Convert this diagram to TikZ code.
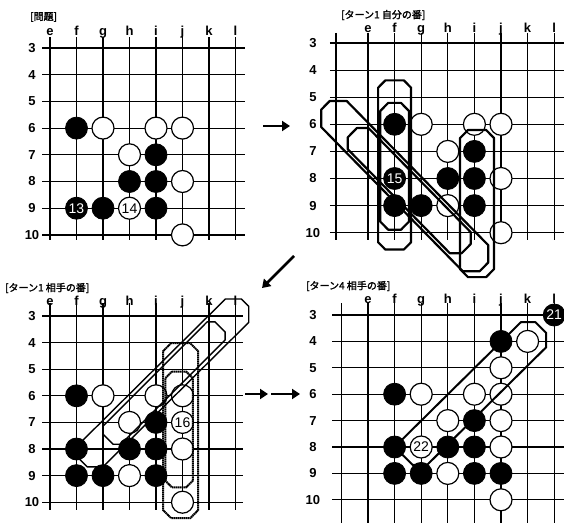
\documentclass[tikz,border=0pt]{standalone}
\usepackage{fontspec}
\setmainfont{Liberation Sans}
\newfontfamily\jpfont{Noto Sans CJK JP}[FakeBold=2]
\usetikzlibrary{arrows.meta}

\tikzset{
  gridline/.style={line width=1.2pt},
  bstone/.style={circle,fill=black,draw=black,line width=0.8pt,minimum size=22pt,inner sep=0pt,text=white,font=\fontsize{14}{14}\selectfont},
  wstone/.style={circle,fill=white,draw=black,line width=1.2pt,minimum size=22pt,inner sep=0pt,font=\fontsize{14}{14}\selectfont},
  rowlab/.style={font=\bfseries\fontsize{13}{13}\selectfont},
  collab/.style={font=\bfseries\fontsize{13}{13}\selectfont,anchor=base},
  title/.style={font=\jpfont\fontsize{10}{10}\selectfont,anchor=west,inner sep=0pt},
  band/.style={line width=2.2pt,line join=round},
  band4/.style={line width=2pt,line join=round},
  thinband/.style={line width=1.4pt,line join=round},
  dotband/.style={line width=2pt,dash pattern=on 1.5pt off 0.5pt},
  turn/.style={line width=2.8pt,-{Triangle[length=8pt,width=10pt]}},
}

% capsules: style, x, y top, y bottom, half width, chamfer
\newcommand\capV[6]{\draw[#1] (#2-#5+#6,#3-#5) -- (#2+#5-#6,#3-#5) -- (#2+#5,#3-#5+#6) -- (#2+#5,#4+#5-#6) -- (#2+#5-#6,#4+#5) -- (#2-#5+#6,#4+#5) -- (#2-#5,#4+#5-#6) -- (#2-#5,#3-#5+#6) -- cycle;}
% down-right: style, x1, y1, x2, y2, half width, chamfer
\newcommand\capD[7]{\draw[#1] (#2-#6,#3+#6-#7) -- (#2-#6,#3-#6+#7) -- (#2-#6+#7,#3-#6) -- (#2+#6-#7,#3-#6) -- (#4+#6,#5-#6+#7) -- (#4+#6,#5+#6-#7) -- (#4+#6-#7,#5+#6) -- (#4-#6+#7,#5+#6) -- cycle;}
% up-right: style, x1, y1 (lower left), x2, y2, half width, chamfer
\newcommand\capU[7]{\draw[#1] (#4-#6+#7,#5-#6) -- (#4+#6-#7,#5-#6) -- (#4+#6,#5-#6+#7) -- (#4+#6,#5+#6-#7) -- (#2+#6-#7,#3+#6) -- (#2-#6+#7,#3+#6) -- (#2-#6,#3+#6-#7) -- (#2-#6,#3-#6+#7) -- cycle;}

\begin{document}
\begin{tikzpicture}[x=1pt,y=-1pt]
\useasboundingbox (0,0) rectangle (564,522);

\node[title] (t-q) at (30,17) {[問題]};
\node[title] (t-1) at (341,15) {[ターン1 自分の番]};
\node[title] (t-2) at (5,288) {[ターン1 相手の番]};
\node[title] (t-3) at (306,286) {[ターン4 相手の番]};

% problem
\begin{scope}[shift={(-82.5,-32.1)},x=26.5pt,y=-26.7pt]
\foreach \cx in {5,...,12} \draw[gridline] (\cx,2.59) -- (\cx,10.19);
\foreach \ry in {3,...,10} {
  \draw[gridline] (4.7,\ry) -- (12.36,\ry);
  \node[rowlab] (a-r\ry) at (4.32,\ry) {\ry};
}
\foreach \cx/\lab in {5/e,6/f,7/g,8/h,9/i,10/j,11/k,12/l} \node[collab] (a-c\lab) at (\cx,2.52) {\lab};
\foreach \cx/\ry/\nm in {6/6/f6,9/7/i7,8/8/h8,9/8/i8,7/9/g9,9/9/i9} \node[bstone] (a-\nm) at (\cx,\ry) {};
\foreach \cx/\ry/\nm in {7/6/g6,9/6/i6,10/6/j6,8/7/h7,10/8/j8,10/10/j10} \node[wstone] (a-\nm) at (\cx,\ry) {};
\node[bstone] (a-f9) at (6,9) {13};
\node[wstone] (a-h9) at (8,9) {14};
\end{scope}

% turn 1, own move
\begin{scope}[shift={(235,-38.3)},x=26.6pt,y=-27.1pt]
\foreach \cx in {3.8,5,6,...,12} \draw[gridline] (\cx,2.63) -- (\cx,10.27);
\foreach \ry in {3,...,10} {
  \draw[gridline] (3.57,\ry) -- (12.5,\ry);
  \node[rowlab] (b-r\ry) at (2.93,\ry) {\ry};
}
\foreach \cx/\lab in {5/e,6/f,7/g,8/h,9/i,10/j,11/k,12/l} \node[collab] (b-c\lab) at (\cx,2.6) {\lab};
\foreach \cx/\ry/\nm in {6/6/f6,9/7/i7,8/8/h8,9/8/i8,6/9/f9,7/9/g9,9/9/i9} \node[bstone] (b-\nm) at (\cx,\ry) {};
\foreach \cx/\ry/\nm in {7/6/g6,9/6/i6,10/6/j6,8/7/h7,10/8/j8,8/9/h9,10/10/j10} \node[wstone] (b-\nm) at (\cx,\ry) {};
\node[bstone] (b-f8) at (6,8) {15};
\capV{band}{6}{5}{10}{0.62}{0.27}
\capV{band}{6}{5.75}{9.35}{0.54}{0.3}
\capD{band}{3.88}{5.78}{8.88}{10.78}{0.64}{0.32}
\capD{band}{4.8}{6.7}{8.3}{10.2}{0.56}{0.34}
\capV{band}{9.1}{6.85}{11}{0.64}{0.3}
\end{scope}

% turn 1, opponent
\begin{scope}[shift={(-82.5,236.2)},x=26.5pt,y=-26.6pt]
\foreach \cx in {5,...,12} \draw[gridline] (\cx,2.51) -- (\cx,10.3);
\foreach \ry in {3,...,10} {
  \draw[gridline] (4.7,\ry) -- (12.28,\ry);
  \node[rowlab] (c-r\ry) at (4.32,\ry) {\ry};
}
\foreach \cx/\lab in {5/e,6/f,7/g,8/h,9/i,10/j,11/k,12/l} \node[collab] (c-c\lab) at (\cx,2.62) {\lab};
\foreach \cx/\ry/\nm in {6/6/f6,9/7/i7,6/8/f8,8/8/h8,9/8/i8,6/9/f9,7/9/g9,9/9/i9} \node[bstone] (c-\nm) at (\cx,\ry) {};
\foreach \cx/\ry/\nm in {7/6/g6,9/6/i6,10/6/j6,8/7/h7,10/8/j8,8/9/h9,10/10/j10} \node[wstone] (c-\nm) at (\cx,\ry) {};
\node[wstone] (c-j7) at (10,7) {16};
\capV{dotband}{9.93}{4.68}{9.94}{0.66}{0.3}
\capV{dotband}{9.87}{5.61}{8.92}{0.52}{0.25}
\capU{thinband}{6.70}{8.09}{11.92}{2.94}{0.58}{0.28}
\capU{thinband}{7.53}{7.29}{11.08}{3.75}{0.53}{0.38}
\end{scope}

% turn 4, opponent
\begin{scope}[shift={(235,235.8)},x=26.6pt,y=-26.4pt]
\foreach \cx in {4,...,12} \draw[gridline] (\cx,2.55) -- (\cx,11);
\foreach \ry in {3,...,10} {
  \draw[gridline] (3.65,\ry) -- (12.6,\ry);
  \node[rowlab] (d-r\ry) at (2.93,\ry) {\ry};
}
\foreach \cx/\lab in {5/e,6/f,7/g,8/h,9/i,10/j,11/k,12/l} \node[collab] (d-c\lab) at (\cx,2.58) {\lab};
\foreach \cx/\ry/\nm in {10/4/j4,6/6/f6,9/7/i7,6/8/f8,8/8/h8,9/8/i8,6/9/f9,7/9/g9,9/9/i9,10/9/j9} \node[bstone] (d-\nm) at (\cx,\ry) {};
\foreach \cx/\ry/\nm in {11/4/k4,10/5/j5,7/6/g6,9/6/i6,10/6/j6,8/7/h7,10/7/j7,10/8/j8,8/9/h9,10/10/j10} \node[wstone] (d-\nm) at (\cx,\ry) {};
\node[bstone] (d-l3) at (12,3) {21};
\node[wstone] (d-g8) at (7,8) {22};
\capU{band4}{6.95}{8.0}{11.02}{3.95}{0.68}{0.41}
\end{scope}

\coordinate (s1) at (263,126);
\coordinate (e1) at (290,126);
\coordinate (s2) at (294,256);
\coordinate (e2) at (262,288);
\coordinate (s3) at (245,394);
\coordinate (e3) at (268,394);
\coordinate (s4) at (271,394);
\coordinate (e4) at (300,394);
\draw[turn] (s1) -- (e1);
\draw[turn] (s2) -- (e2);
\draw[turn] (s3) -- (e3);
\draw[turn] (s4) -- (e4);
\end{tikzpicture}
\end{document}
